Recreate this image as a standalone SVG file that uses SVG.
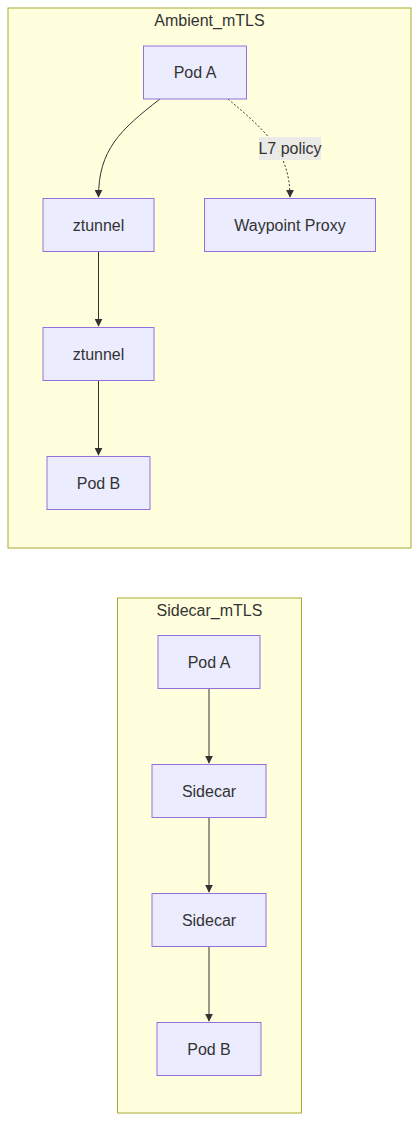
<svg xmlns="http://www.w3.org/2000/svg" width="419" height="1122" viewBox="0 0 419 1122">
<style>
.cluster{fill:#ffffde;stroke:#aaaa33;stroke-width:1}
.node rect{fill:#ececff;stroke:#9370db;stroke-width:1}
text{font-family:"Liberation Sans",Arial,sans-serif;font-size:16px;fill:#333;text-anchor:middle;dominant-baseline:central}
.edge{fill:none;stroke:#333;stroke-width:1}
.dotted{stroke-dasharray:2 2}
</style>
<defs>
<marker id="arrow" viewBox="0 0 10 10" refX="9" refY="5" markerWidth="8" markerHeight="8" markerUnits="userSpaceOnUse" orient="auto">
<path d="M0,0 L10,5 L0,10 z" fill="#333"/>
</marker>
</defs>
<rect width="419" height="1122" fill="#ffffff"/>
<g id="cluster-ambient">
<rect class="cluster" x="8" y="8" width="403" height="540"/>
<text x="209.5" y="20">Ambient_mTLS</text>
</g>
<g id="cluster-sidecar">
<rect class="cluster" x="117.5" y="598" width="184" height="515"/>
<text x="209.5" y="610">Sidecar_mTLS</text>
</g>
<g id="edges">
<path class="edge" d="M160,99 C120,130 98.5,150 98.5,197" marker-end="url(#arrow)"/>
<path class="edge dotted" d="M228,99 C262,128 290,150 290,197" marker-end="url(#arrow)"/>
<path class="edge" d="M98.5,252 L98.5,326" marker-end="url(#arrow)"/>
<path class="edge" d="M98.5,381 L98.5,455" marker-end="url(#arrow)"/>
<path class="edge" d="M209,689 L209,763" marker-end="url(#arrow)"/>
<path class="edge" d="M209,818 L209,892" marker-end="url(#arrow)"/>
<path class="edge" d="M209,947 L209,1021" marker-end="url(#arrow)"/>
<g id="label-l7">
<rect x="259" y="137" width="62" height="23" fill="#e8e8e8" opacity="0.9"/>
<text x="290" y="148.5">L7 policy</text>
</g>
</g>
<g id="a-poda" class="node"><rect x="143.5" y="46" width="103" height="53"/><text x="195" y="72.5">Pod A</text></g>
<g id="a-ztunnel1" class="node"><rect x="43" y="198.5" width="111" height="53"/><text x="98.5" y="225">ztunnel</text></g>
<g id="a-waypoint" class="node"><rect x="204.5" y="198.5" width="171" height="53"/><text x="290" y="225">Waypoint Proxy</text></g>
<g id="a-ztunnel2" class="node"><rect x="43" y="327.5" width="111" height="53"/><text x="98.5" y="354">ztunnel</text></g>
<g id="a-podb" class="node"><rect x="47" y="456.5" width="103" height="53"/><text x="98.5" y="483">Pod B</text></g>
<g id="s-poda" class="node"><rect x="158" y="635.5" width="102" height="53"/><text x="209" y="662">Pod A</text></g>
<g id="s-sidecar1" class="node"><rect x="152" y="764.5" width="114" height="53"/><text x="209" y="791">Sidecar</text></g>
<g id="s-sidecar2" class="node"><rect x="152" y="893.5" width="114" height="53"/><text x="209" y="920">Sidecar</text></g>
<g id="s-podb" class="node"><rect x="157" y="1022.5" width="104" height="53"/><text x="209" y="1049">Pod B</text></g>
</svg>
